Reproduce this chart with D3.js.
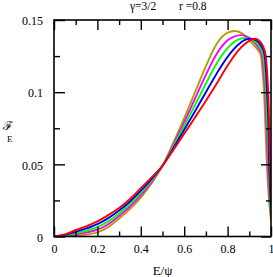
<!DOCTYPE html>
<html><head><meta charset="utf-8">
<script src="https://cdn.jsdelivr.net/npm/d3@7"></script>
<style>
html,body{margin:0;padding:0;background:#fff;}
svg{display:block;}
text{font-family:"Liberation Serif","DejaVu Serif",serif;fill:#000;}
</style></head>
<body><svg id="c" width="273" height="277"></svg>
<script>
// ---- data ----
const xMajorTicks = [0, 0.2, 0.4, 0.6, 0.8, 1];
const xMinorTicks = [0.1, 0.3, 0.5, 0.7, 0.9];
const xTickLabels = ["0", "0.2", "0.4", "0.6", "0.8", "1"];
const yMajorTicks = [0, 0.05, 0.1, 0.15];
const yMinorTicks = [0.025, 0.075, 0.125];
const yTickLabels = ["0", "0.05", "0.1", "0.15"];
const titleLeft = "γ=3/2";
const titleRight = "r =0.8";
const xLabel = "E/ψ";
const yLabelMain = "ℱ";
const yLabelSub = "E";
const seriesNames = ["olive", "magenta", "green", "blue", "red"];
const seriesColors = ["#b0a000", "#ff00ff", "#00ff00", "#0000ff", "#ff0000"];

const olive = [[0,0],[0.05,0.0001],[0.1,0.0004],[0.15,0.0013],[0.2,0.0029],[0.25,0.0065],[0.3,0.0125],[0.35,0.019],[0.4,0.027],[0.45,0.037],[0.5,0.049],[0.55,0.065],[0.6,0.082],[0.65,0.1],[0.7,0.118],[0.75,0.1335],[0.8,0.1412],[0.834,0.1424],[0.87,0.1405],[0.9,0.136],[0.93,0.131],[0.952,0.126],[0.962,0.113],[0.968,0.1],[0.974,0.077],[0.98,0.054],[0.988,0.031],[1,0.011]];
const magenta = [[0,0],[0.05,0.0004],[0.1,0.0014],[0.15,0.0028],[0.2,0.0047],[0.25,0.0085],[0.3,0.0143],[0.35,0.0208],[0.4,0.0286],[0.45,0.038],[0.5,0.049],[0.55,0.0637],[0.6,0.0793],[0.65,0.0956],[0.7,0.112],[0.75,0.1266],[0.8,0.136],[0.83,0.1385],[0.86,0.1395],[0.89,0.1385],[0.92,0.135],[0.945,0.13],[0.958,0.126],[0.966,0.114],[0.973,0.1],[0.979,0.077],[0.984,0.054],[0.991,0.031],[1,0.015]];
const green = [[0,0],[0.05,0.0007],[0.1,0.0022],[0.15,0.004],[0.2,0.0065],[0.25,0.0105],[0.3,0.016],[0.35,0.0225],[0.4,0.0302],[0.45,0.039],[0.5,0.049],[0.55,0.0625],[0.6,0.0766],[0.65,0.0912],[0.7,0.106],[0.75,0.12],[0.8,0.1305],[0.85,0.1365],[0.88,0.1375],[0.91,0.1365],[0.94,0.133],[0.964,0.126],[0.971,0.114],[0.977,0.1],[0.983,0.077],[0.988,0.054],[0.993,0.031],[1,0.0177]];
const blue = [[0,0],[0.05,0.0011],[0.1,0.0033],[0.15,0.0056],[0.2,0.0085],[0.25,0.0127],[0.3,0.018],[0.35,0.0243],[0.4,0.0318],[0.45,0.04],[0.5,0.049],[0.55,0.0612],[0.6,0.0739],[0.65,0.0868],[0.7,0.1],[0.75,0.113],[0.8,0.1245],[0.85,0.133],[0.88,0.1362],[0.903,0.137],[0.93,0.136],[0.955,0.132],[0.97,0.126],[0.977,0.114],[0.982,0.1],[0.988,0.077],[0.991,0.054],[0.996,0.031],[1,0.02]];
const red = [[0,0],[0.05,0.0015],[0.1,0.0045],[0.15,0.0072],[0.2,0.0105],[0.25,0.0148],[0.3,0.0198],[0.35,0.026],[0.4,0.0335],[0.45,0.041],[0.5,0.049],[0.55,0.06],[0.6,0.0712],[0.65,0.0825],[0.7,0.094],[0.75,0.106],[0.8,0.1185],[0.85,0.129],[0.9,0.1355],[0.926,0.137],[0.95,0.135],[0.965,0.131],[0.975,0.126],[0.982,0.114],[0.987,0.1],[0.992,0.077],[0.995,0.054],[0.9985,0.031],[1,0.023]];
const seriesData = [olive, magenta, green, blue, red];

// ---- layout ----
const L = 54, R = 271, T = 20, B = 236.5;
const x = d3.scaleLinear().domain([0, 1]).range([L, R]);
const y = d3.scaleLinear().domain([0, 0.15]).range([B, T]);
const svg = d3.select("#c");

svg.append("defs").append("clipPath").attr("id", "clip")
  .append("rect").attr("x", L).attr("y", T).attr("width", R - L).attr("height", B - T);

const line = d3.line().x(d => x(d[0])).y(d => y(d[1])).curve(d3.curveMonotoneX);
const g = svg.append("g").attr("clip-path", "url(#clip)");
seriesData.forEach((s, i) => {
  g.append("path").datum(s).attr("d", line)
    .attr("fill", "none").attr("stroke", seriesColors[i]).attr("stroke-width", 1.9)
    .attr("stroke-linejoin", "round");
});

function styleAxis(sel) {
  sel.select(".domain").remove();
  sel.selectAll(".tick line").attr("stroke", "#000").attr("stroke-width", 1.4);
}
// bottom
svg.append("g").attr("transform", `translate(0,${B})`)
  .call(d3.axisBottom(x).tickValues(xMajorTicks).tickSizeInner(-10).tickSizeOuter(0)
    .tickPadding(6).tickFormat((d, i) => xTickLabels[i]))
  .call(styleAxis)
  .call(s => s.selectAll("text").attr("font-size", 12).attr("font-family", "Liberation Serif").attr("dy", "0.7em").attr("y", 8));
svg.append("g").attr("transform", `translate(0,${B})`)
  .call(d3.axisBottom(x).tickValues(xMinorTicks).tickSizeInner(-5).tickSizeOuter(0).tickFormat(""))
  .call(styleAxis);
// top
svg.append("g").attr("transform", `translate(0,${T})`)
  .call(d3.axisTop(x).tickValues(xMajorTicks).tickSizeInner(-10).tickSizeOuter(0).tickFormat(""))
  .call(styleAxis);
svg.append("g").attr("transform", `translate(0,${T})`)
  .call(d3.axisTop(x).tickValues(xMinorTicks).tickSizeInner(-5).tickSizeOuter(0).tickFormat(""))
  .call(styleAxis);
// left
svg.append("g").attr("transform", `translate(${L},0)`)
  .call(d3.axisLeft(y).tickValues(yMajorTicks).tickSizeInner(-11).tickSizeOuter(0)
    .tickPadding(0).tickFormat((d, i) => yTickLabels[i]))
  .call(styleAxis)
  .call(s => s.selectAll("text").attr("font-size", 12).attr("font-family", "Liberation Serif").attr("x", -11).attr("dy", "0.4em"));
svg.append("g").attr("transform", `translate(${L},0)`)
  .call(d3.axisLeft(y).tickValues(yMinorTicks).tickSizeInner(-6).tickSizeOuter(0).tickFormat(""))
  .call(styleAxis);
// right
svg.append("g").attr("transform", `translate(${R},0)`)
  .call(d3.axisRight(y).tickValues(yMajorTicks).tickSizeInner(-10).tickSizeOuter(0).tickFormat(""))
  .call(styleAxis);
svg.append("g").attr("transform", `translate(${R},0)`)
  .call(d3.axisRight(y).tickValues(yMinorTicks).tickSizeInner(-5).tickSizeOuter(0).tickFormat(""))
  .call(styleAxis);

// frame
svg.append("rect").attr("x", L).attr("y", T).attr("width", R - L).attr("height", B - T)
  .attr("fill", "none").attr("stroke", "#000").attr("stroke-width", 1.6);

// titles
svg.append("text").attr("x", 130).attr("y", 10).attr("font-size", 11.5).text(titleLeft);
svg.append("text").attr("x", 179).attr("y", 10).attr("font-size", 11.5).text(titleRight);
svg.append("text").attr("x", (L + R) / 2).attr("y", 275).attr("text-anchor", "middle")
  .attr("font-size", 13).text(xLabel);
svg.append("text").attr("x", 3).attr("y", 130).attr("font-size", 12)
  .attr("font-family", "DejaVu Sans").text(yLabelMain);
svg.append("text").attr("x", 7).attr("y", 142).attr("font-size", 9).text(yLabelSub);
</script></body></html>
